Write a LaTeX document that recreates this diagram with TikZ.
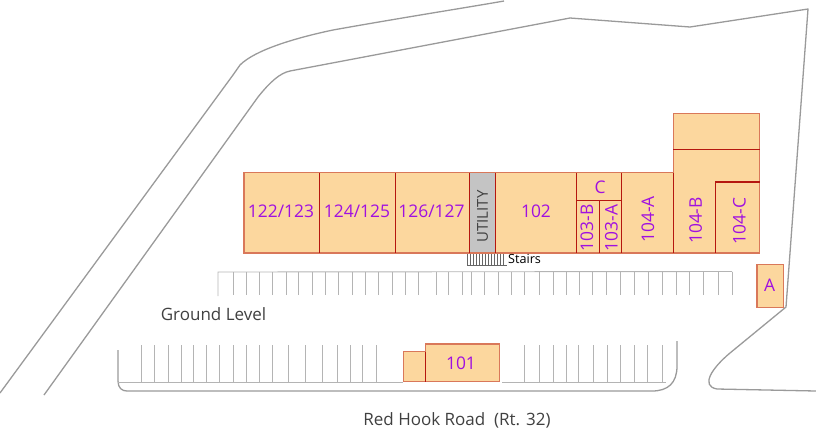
\documentclass[tikz,border=0pt]{standalone}
\usepackage{fontspec}
\setmainfont{Open Sans}
\definecolor{bfill}{HTML}{FCD79E}
\definecolor{bedge}{HTML}{D9785A}
\definecolor{bdiv}{HTML}{B5170F}
\definecolor{lbl}{HTML}{A010E0}
\definecolor{roadc}{HTML}{9A9A9A}
\definecolor{tickc}{HTML}{B4B4B4}
\definecolor{utilc}{HTML}{C4C4C4}
\tikzset{
  bldg/.style={fill=bfill,draw=bedge,line width=1.2pt},
  divline/.style={draw=bdiv,line width=1.1pt},
  road/.style={draw=roadc,line width=1.3pt,line join=round},
  park/.style={draw=tickc,line width=0.9pt},
  unitlabel/.style={text=lbl,font=\fontsize{17.4}{18}\selectfont,inner sep=0pt},
  plainlabel/.style={text=black!75,font=\fontsize{17}{18}\selectfont,inner sep=0pt},
}
\begin{document}
\begin{tikzpicture}[x=1pt,y=-1pt]
\useasboundingbox (0,0) rectangle (816,432);
% roads
\draw[road] (504,1) .. controls (470,7) and (400,18) .. (333,30)
  .. controls (295,38) and (255,50) .. (240,65) -- (233,75) -- (0,393);
\draw[road] (44,395) -- (258,97) .. controls (270,82) and (280,73) .. (290,71)
  -- (570,18) -- (690,27) -- (808,9) -- (786,307) -- (730,353)
  .. controls (712,368) and (700,386) .. (717,389) -- (816,391);
% lower lot
\draw[road] (118,350) -- (118,381) .. controls (118,388) and (122,391) .. (127,391)
  -- (652,391) .. controls (668,391) and (677,383) .. (677,366) -- (677,341);
\draw[park] (118,382) -- (403,382) (502,382) -- (666,382);
\foreach \x in {141,154.7,168,181,193,206,219,233.7,246.7,259,272.7,288,305.7,322.7,337,350,362.7,376,524.7,539,553,566.7,578,593,607,620,634,647,662}
  \draw[park] (\x,345) -- (\x,382);
% upper lot
\draw[park] (218,296) -- (218,272) -- (732,271.5);
\foreach \x in {233,246,259,272,286,298,312,325,338,352,365,378,392,405,418,436,448,462,471,484,498,511,524,539,553,566,579,592,606,620,634,648,662,676,689,703,718,732}
  \draw[park] (\x,272) -- (\x,295);
% stairs
\draw[black!60,line width=0.6pt] (467,265) -- (507,265);
\foreach \x in {467,470,473,476,479,482,485,488,491,494,497,500,503}
  \draw[black!60,line width=0.6pt] (\x,253) -- (\x,265);
% buildings
\draw[bldg] (244,172.5) rectangle (576.7,253);
\draw[bldg] (576.7,172.5) rectangle (673.3,253);
\draw[bldg] (673.3,113.7) rectangle (759.5,253);
\draw[bldg,fill=utilc] (469.7,172.5) rectangle (495.7,253);
\draw[bldg] (757,264.7) rectangle (783.3,307.3);
\draw[bldg] (403.7,351.7) rectangle (425.3,381.7);
\draw[bldg] (425.3,344) rectangle (499.7,381.7);
% divisions
\draw[divline] (319.5,172.5) -- (319.5,253);
\draw[divline] (395.3,172.5) -- (395.3,253);
\draw[divline] (469.7,172.5) -- (469.7,253) (495.7,172.5) -- (495.7,253);
\draw[divline] (576.7,172.5) -- (576.7,253);
\draw[divline] (621.7,172.5) -- (621.7,253);
\draw[divline] (576.7,200.5) -- (621.7,200.5);
\draw[divline] (599.3,200.5) -- (599.3,253);
\draw[divline] (673.3,172.5) -- (673.3,253);
\draw[divline] (673.3,149.5) -- (759.5,149.5);
\draw[divline] (759.5,182) -- (715.3,182) -- (715.3,253);
\draw[divline] (425.3,351.7) -- (425.3,381.7);
% labels
\node[unitlabel] (u122) at (281,211) {122/123};
\node[unitlabel] (u124) at (357,211) {124/125};
\node[unitlabel] (u126) at (431.5,211) {126/127};
\node[plainlabel,rotate=90,font=\fontsize{15}{16}\selectfont] (util) at (482.5,216.5) {UTILITY};
\node[unitlabel] (u102) at (536,211) {102};
\node[unitlabel] (uC) at (600,187) {C};
\node[unitlabel,rotate=90] (u103b) at (587,228) {103-B};
\node[unitlabel,rotate=90] (u103a) at (611.5,228) {103-A};
\node[unitlabel,rotate=90] (u104a) at (648,219.5) {104-A};
\node[unitlabel,rotate=90] (u104b) at (695.7,220.5) {104-B};
\node[unitlabel,rotate=90] (u104c) at (739.5,221) {104-C};
\node[unitlabel] (uA) at (769.5,285.5) {A};
\node[unitlabel] (u101) at (461,363.5) {101};
\node[text=black,inner sep=0pt,anchor=west,font=\fontsize{12.6}{14}\selectfont] (stairs) at (508,259) {Stairs};
\node[plainlabel] (ground) at (213.5,314) {Ground Level};
\node[plainlabel] (redhook) at (457,420) {Red Hook Road\ \ (Rt. 32)};
\end{tikzpicture}
\end{document}
